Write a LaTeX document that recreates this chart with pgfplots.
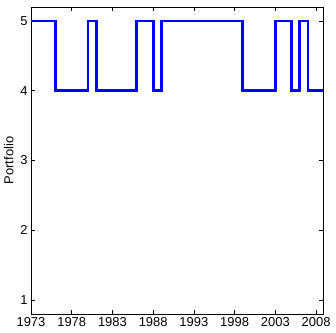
\documentclass[border=0pt]{standalone}
\usepackage{pgfplots}
\pgfplotsset{compat=1.18}
\usepackage{fontspec}
\setmainfont{Liberation Sans}
\begin{document}
\begin{tikzpicture}
\begin{axis}[
  scale only axis,
  width=292bp, height=307bp,
  xmin=1973, xmax=2008.85,
  ymin=0.8, ymax=5.2,
  xtick={1973,1978,...,2008},
  ytick={1,2,3,4,5},
  xticklabel style={/pgf/number format/1000 sep={}},
  /pgf/number format/assume math mode=true,
  tick align=inside,
  major tick length=4bp,
  tick style={black, line width=0.5pt},
  axis line style={black, line width=0.8pt},
  ticklabel style={font=\fontsize{13}{15}\selectfont},
  ylabel={Portfolio},
  every axis y label/.style={at={(ticklabel cs:0.5)}, rotate=90, anchor=south, font=\fontsize{13}{15}\selectfont},
  xtick pos=both, ytick pos=both,
]
\addplot[const plot, blue, line width=2.8pt] coordinates {
(1973,5) (1976,4) (1980,5) (1981,4) (1986,5) (1988,4) (1989,5) (1999,4) (2003,5) (2005,4) (2006,5) (2007,4) (2008.85,4)
};
\end{axis}
\pgfresetboundingbox
\path ([shift={(-31bp,-19bp)}]current axis.south west) rectangle ([shift={(13bp,7bp)}]current axis.north east);
\end{tikzpicture}
\end{document}
